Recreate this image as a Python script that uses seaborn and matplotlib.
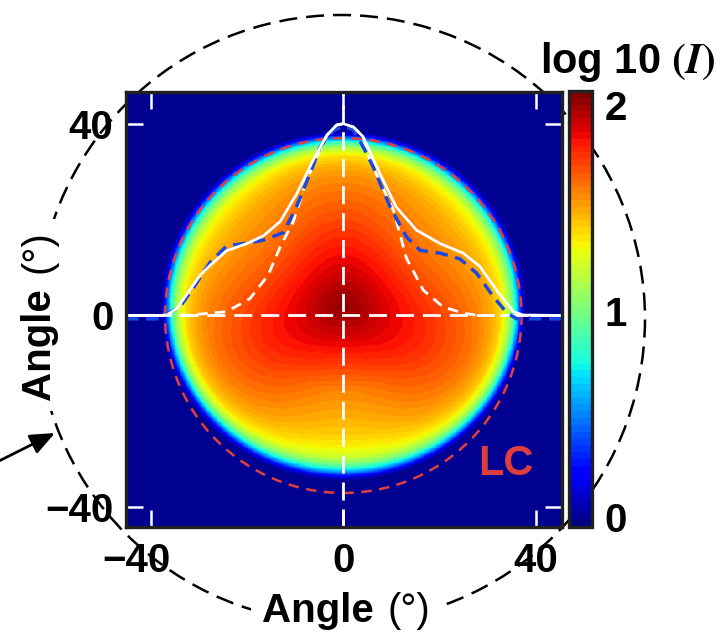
import numpy as np
import matplotlib
matplotlib.use("Agg")
import matplotlib.pyplot as plt
from matplotlib.patches import Circle, FancyArrowPatch
from matplotlib.transforms import ScaledTranslation
import seaborn as sns

# ---------------------------------------------------------------- data
# radial profile of log10(I) versus angle from the pattern centre (deg)
profile_r = [0, 3, 6, 9, 12, 15, 18, 21, 24, 27, 29.5, 31.5, 33, 34, 35, 35.8, 36.5]
profile_v = [2.02, 1.98, 1.92, 1.86, 1.80, 1.74, 1.68, 1.63, 1.58, 1.52, 1.44,
             1.33, 1.12, 0.88, 0.50, 0.15, 0.0]
# azimuthal correction of log10(I) (azimuth in deg, counter-clockwise from +x)
azim_deg = [0, 45, 90, 135, 180, 215, 270, 325]
azim_dv = [0.07, -0.06, 0.05, -0.06, 0.07, 0.05, -0.10, 0.05]
# radial weight of the azimuthal correction
env_r = [0, 8, 18, 34, 36.5]
env_w = [0.0, 0.2, 1.0, 1.0, 0.0]
centre_y = 2.0

# horizontal cuts (scaled intensity, drawn in angle units)
meas_x = [-45.1, -38.0, -36.6, -34.5, -32.5, -29.7, -27.7, -24.2, -20.0, -16.6, -13.1,
          -9.7, -6.2, -3.4, -1.4, 0.0, 2.1, 4.1, 7.6, 11.0, 15.2, 20.1, 24.9, 28.4,
          31.8, 35.3, 37.3, 45.4]
meas_y = [0, 0, 0.1, 1.5, 4.4, 8.4, 10.4, 13.5, 15.0, 16.6, 19.6, 25.3, 32.5, 37.6,
          39.7, 40.0, 39.3, 37.3, 29.6, 22.6, 17.8, 15.0, 13.0, 10.2, 5.3, 0.8, 0.1, 0]

model_x = [-45.1, -38.0, -36.6, -33.9, -31.1, -27.7, -24.2, -20.7, -16.6, -12.4, -9.7,
           -6.9, -4.8, -2.1, 0.0, 2.0, 4.1, 6.2, 9.7, 13.1, 15.9, 20.1, 24.2, 27.7,
           31.1, 33.9, 36.0, 45.4]
model_y = [-0.7, -0.7, 0.3, 1.8, 5.8, 11.0, 14.5, 15.0, 15.7, 17.3, 22.7, 29.6, 35.2,
           38.6, 39.4, 38.8, 35.2, 31.0, 22.7, 16.4, 13.6, 13.0, 11.8, 8.8, 4.0, 0.6,
           -0.7, -0.7]

core_x = [-45.1, -31.8, -24.2, -19.4, -15.6, -13.1, -10.4, -7.6, -5.5, -3.4, -1.4, 0.0,
          2.1, 4.1, 5.5, 10.4, 13.1, 16.6, 20.7, 24.9, 28.0, 45.4]
core_y = [0, 0.1, 0.8, 3.5, 8.4, 14.3, 19.5, 28.2, 33.1, 37.6, 39.7, 40.0, 39.3, 37.3,
          32.4, 22.0, 12.0, 5.3, 1.8, 0.5, 0, 0]

lc_radius = 37.0
ticks = [-40, 0, 40]
cbar_ticks = [0, 1, 2]
cbar_labels = ["0", "1", "2"]

# ---------------------------------------------------------------- style
sns.set_style("white")
plt.rcParams["font.family"] = ["Liberation Sans", "DejaVu Sans"]
plt.rcParams["font.weight"] = "bold"
plt.rcParams["mathtext.fontset"] = "stix"
plt.rcParams["axes.unicode_minus"] = True
plt.rcParams["text.color"] = "black"
plt.rcParams["xtick.labelcolor"] = "black"
plt.rcParams["ytick.labelcolor"] = "black"

W, H, DPI = 725, 633, 100
fig = plt.figure(figsize=(W / DPI, H / DPI), dpi=DPI)


def px_rect(left, top, right, bottom):
    return [left / W, 1 - bottom / H, (right - left) / W, (bottom - top) / H]


ax = fig.add_axes(px_rect(126, 92, 562, 527))
cax = fig.add_axes(px_rect(569, 91, 592, 527))

xlim = (-45.1, 45.4)
ylim = (-44.1, 46.6)


# ---------------------------------------------------------------- image
def azimuthal_term(theta_deg):
    t = np.radians(azim_deg)
    cols = [np.ones_like(t)]
    for k in (1, 2, 3):
        cols += [np.cos(k * t), np.sin(k * t)]
    coef, *_ = np.linalg.lstsq(np.stack(cols, 1), np.array(azim_dv), rcond=None)
    tt = np.radians(theta_deg)
    out = coef[0] * np.ones_like(tt)
    i = 1
    for k in (1, 2, 3):
        out = out + coef[i] * np.cos(k * tt) + coef[i + 1] * np.sin(k * tt)
        i += 2
    return out


n = 520
xs = np.linspace(xlim[0], xlim[1], n)
ys = np.linspace(ylim[0], ylim[1], n)
X, Y = np.meshgrid(xs, ys)
R = np.hypot(X / 1.04, (Y - centre_y) / 1.0)
TH = np.degrees(np.arctan2(Y - centre_y, X)) % 360
V = np.interp(R, profile_r, profile_v) + np.interp(R, env_r, env_w) * azimuthal_term(TH)
V = np.clip(V, 0, None)

cmap = matplotlib.colormaps["jet"].resampled(64)
im = ax.imshow(V, extent=(xlim[0], xlim[1], ylim[0], ylim[1]), origin="lower",
               cmap=cmap, vmin=-0.05, vmax=2.07, aspect="auto",
               interpolation="nearest", zorder=0)

# light-cone circle
ax.add_patch(Circle((0, 0), lc_radius, fill=False, ec="#E0413D", lw=1.8,
                    linestyle=(0, (4.2, 3.0)), zorder=2))

# crosshair
ax.axhline(0, color="white", lw=2.0, linestyle=(0, (6.5, 3.2)), zorder=3)
ax.axvline(0, color="white", lw=2.0, linestyle=(0, (6.5, 3.2)), zorder=3)

# cuts
sns.lineplot(x=core_x, y=core_y, ax=ax, color="white", lw=2.0,
             linestyle=(0, (3.8, 2.6)), sort=False, estimator=None, zorder=4)
sns.lineplot(x=model_x, y=model_y, ax=ax, color="#1A47E6", lw=2.5,
             linestyle=(0, (3.6, 2.2)), sort=False, estimator=None, zorder=5)
sns.lineplot(x=meas_x, y=meas_y, ax=ax, color="white", lw=2.0,
             sort=False, estimator=None, zorder=6)

ax.text(33.75, -31.0, "LC", color="#DE3D3D", fontsize=30, fontweight="bold",
        ha="center", va="center", zorder=7)

ax.set_xlim(*xlim)
ax.set_ylim(*ylim)
ax.set_xlabel("")
ax.set_ylabel("")
ax.set_xticks(ticks)
ax.set_yticks(ticks)
ax.tick_params(direction="in", length=12, width=1.8, color="white",
               labelcolor="black", top=True, right=True, bottom=True, left=True,
               labelsize=29)
ax.tick_params(axis="x", pad=11)
ax.tick_params(axis="y", pad=9)
for s in ax.spines.values():
    s.set_linewidth(2.4)
    s.set_color("#202020")
    s.set_zorder(10)

# hang the minus sign of the first x label to the left
lbl = ax.xaxis.get_major_ticks()[0].label1
lbl.set_transform(lbl.get_transform() + ScaledTranslation(-0.14, 0, fig.dpi_scale_trans))

# ---------------------------------------------------------------- colorbar
cb = fig.colorbar(im, cax=cax, ticks=cbar_ticks)
cb.set_ticklabels(cbar_labels)
cb.outline.set_linewidth(2.4)
cb.outline.set_edgecolor("#202020")
cax.tick_params(length=0, labelsize=29, pad=9, labelcolor="black")
fig.text(716 / W, (H - 73) / H, r"log 10 $(I)$", ha="right", va="baseline",
         fontsize=30, fontweight="bold", color="black")

# ---------------------------------------------------------------- axis titles
box = dict(facecolor="white", edgecolor="none", pad=8)
fig.text(374 / W, 11 / H, "Angle", ha="right", va="baseline", fontsize=29,
         fontweight="bold", color="black", bbox=box)
fig.text(387 / W, 11 / H, "(°)", ha="left", va="baseline", fontsize=29,
         fontweight="normal", color="black", bbox=box)
fig.text(50 / W, 233 / H, "Angle", rotation=90, rotation_mode="anchor",
         ha="left", va="baseline", fontsize=29, fontweight="bold", color="black",
         bbox=box)
fig.text(50 / W, 360 / H, "(°)", rotation=90, rotation_mode="anchor",
         ha="left", va="baseline", fontsize=29, fontweight="normal", color="black",
         bbox=box)

# ---------------------------------------------------------------- outer circle and arrow
outer = Circle((3.41, 3.14), 3.04, transform=fig.dpi_scale_trans, fill=False,
               ec="black", lw=1.8, linestyle=(0, (7.2, 3.6)), zorder=-1)
fig.add_artist(outer)
arrow = FancyArrowPatch((-0.05, 1.70), (0.55, 2.0), transform=fig.dpi_scale_trans,
                        arrowstyle="-|>,head_length=0.6,head_width=0.25",
                        mutation_scale=25, lw=2, color="black",
                        shrinkA=0, shrinkB=0, zorder=5)
fig.add_artist(arrow)

fig.savefig("out.png", dpi=DPI)
